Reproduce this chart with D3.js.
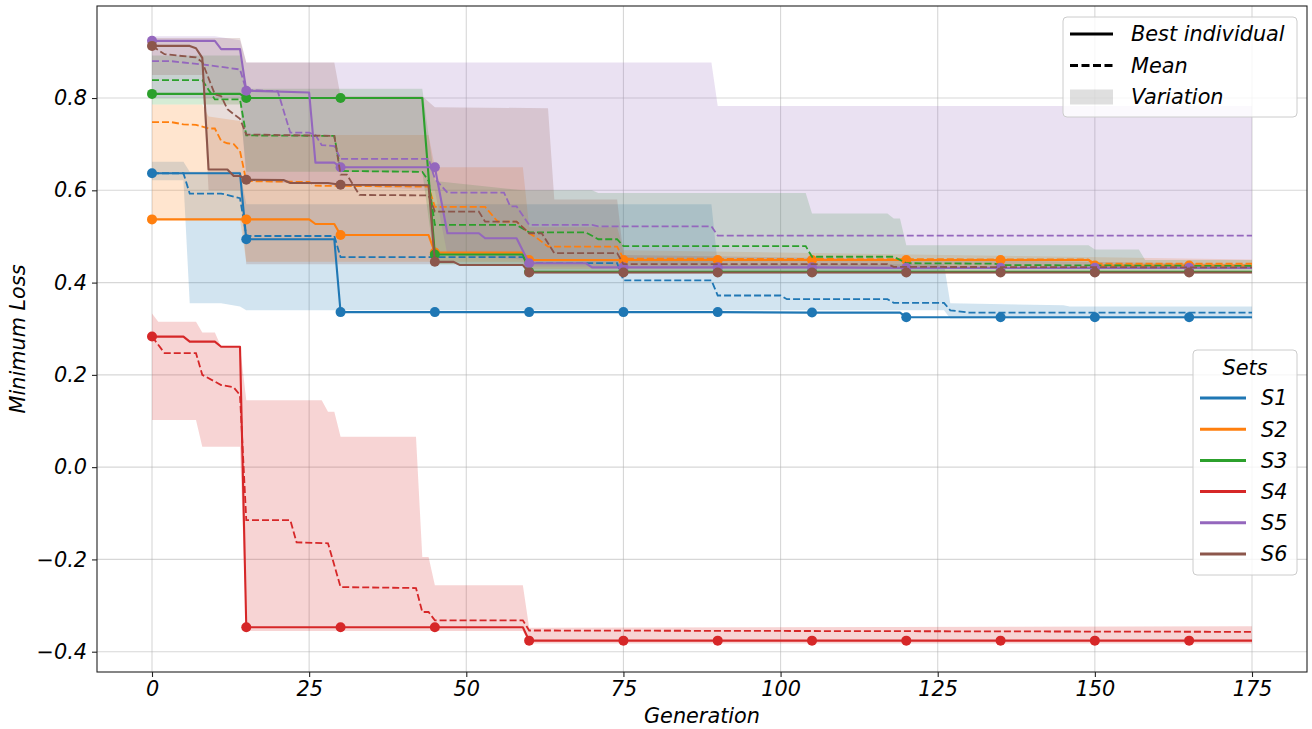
<!DOCTYPE html>
<html>
<head>
<meta charset="utf-8">
<script src="https://cdn.jsdelivr.net/npm/d3@7"></script>
<style>
  body { margin: 0; background: #ffffff; }
  svg text { font-family: "DejaVu Sans", sans-serif; font-style: italic; fill: #000; }
</style>
</head>
<body>
<svg id="chart" width="1312" height="729"></svg>
<script>
// ---- data: [generation, loss] breakpoints per set ----
const setNames = ["S1", "S2", "S3", "S4", "S5", "S6"];
const setColors = ["#1f77b4", "#ff7f0e", "#2ca02c", "#d62728", "#9467bd", "#8c564b"];
const xTicks = [0, 25, 50, 75, 100, 125, 150, 175];
const yTicks = [-0.4, -0.2, 0.0, 0.2, 0.4, 0.6, 0.8];
const markerEvery = 15;

const s1Best = [[0,0.637],[14,0.637],[15,0.494],[29,0.494],[30,0.336],[45,0.336],[60,0.336],[75,0.336],[90,0.336],[105,0.335],[119,0.335],[120,0.325],[135,0.325],[150,0.325],[165,0.325],[175,0.325]];
const s2Best = [[0,0.537],[15,0.537],[25,0.537],[26,0.527],[29,0.527],[30,0.503],[44,0.503],[45,0.465],[59,0.465],[60,0.449],[75,0.449],[90,0.449],[105,0.449],[120,0.449],[135,0.449],[149,0.449],[150,0.437],[165,0.437],[175,0.437]];
const s3Best = [[0,0.809],[14,0.809],[15,0.800],[30,0.800],[43,0.800],[45,0.461],[59,0.461],[60,0.4235],[75,0.4235],[90,0.4235],[105,0.4235],[120,0.4235],[135,0.4235],[150,0.4235],[165,0.4235],[175,0.4235]];
const s4Best = [[0,0.283],[5,0.283],[6,0.272],[10,0.272],[11,0.261],[14,0.261],[15,-0.347],[30,-0.347],[45,-0.347],[59,-0.347],[60,-0.376],[75,-0.376],[90,-0.376],[105,-0.376],[120,-0.376],[135,-0.376],[150,-0.376],[165,-0.376],[175,-0.376]];
const s5Best = [[0,0.924],[10,0.924],[11,0.906],[14,0.906],[15,0.816],[25,0.812],[26,0.660],[29,0.660],[30,0.650],[45,0.650],[47,0.507],[52,0.507],[53,0.496],[58,0.496],[60,0.442],[69,0.442],[70,0.433],[75,0.433],[90,0.433],[105,0.433],[120,0.432],[135,0.432],[150,0.432],[165,0.432],[175,0.432]];
const s6Best = [[0,0.913],[6,0.913],[7,0.908],[8,0.887],[9,0.645],[12,0.645],[13,0.631],[14,0.631],[15,0.623],[21,0.622],[22,0.616],[28,0.616],[30,0.612],[44,0.611],[45,0.445],[48,0.445],[49,0.438],[59,0.438],[60,0.422],[75,0.422],[90,0.422],[105,0.422],[120,0.422],[135,0.422],[150,0.422],[165,0.422],[175,0.422]];

const s1Mean = [[0,0.637],[5,0.637],[6,0.593],[11,0.593],[14,0.583],[15,0.501],[29,0.501],[30,0.455],[59,0.455],[60,0.442],[74,0.442],[75,0.405],[89,0.405],[90,0.372],[100,0.372],[101,0.364],[117,0.364],[118,0.356],[126,0.356],[127,0.340],[130,0.335],[175,0.335]];
const s2Mean = [[0,0.748],[3,0.748],[5,0.743],[7,0.742],[9,0.734],[10,0.734],[11,0.707],[12,0.702],[13,0.700],[14,0.685],[15,0.620],[25,0.618],[26,0.610],[44,0.608],[45,0.564],[53,0.564],[55,0.532],[58,0.532],[60,0.507],[61,0.499],[63,0.478],[74,0.478],[75,0.452],[149,0.450],[150,0.441],[175,0.441]];
const s3Mean = [[0,0.839],[8,0.839],[10,0.797],[14,0.797],[15,0.719],[29,0.718],[30,0.642],[43,0.640],[44,0.620],[45,0.525],[58,0.525],[60,0.509],[69,0.509],[71,0.494],[74,0.494],[75,0.479],[104,0.479],[105,0.456],[118,0.456],[120,0.442],[134,0.441],[135,0.438],[175,0.436]];
const s4Mean = [[0,0.283],[2,0.247],[7,0.247],[8,0.200],[11,0.178],[13,0.173],[14,0.156],[15,-0.115],[22,-0.115],[23,-0.163],[28,-0.165],[30,-0.260],[42,-0.262],[43,-0.314],[44,-0.314],[45,-0.332],[59,-0.332],[60,-0.354],[175,-0.357]];
const s5Mean = [[0,0.880],[3,0.880],[5,0.877],[8,0.873],[14,0.862],[15,0.817],[20,0.815],[22,0.725],[25,0.725],[26,0.720],[27,0.698],[29,0.696],[30,0.668],[44,0.668],[45,0.625],[47,0.595],[56,0.595],[57,0.565],[58,0.565],[60,0.525],[70,0.525],[71,0.522],[89,0.522],[90,0.502],[175,0.502]];
const s6Mean = [[0,0.913],[2,0.895],[7,0.888],[8,0.878],[10,0.808],[11,0.804],[12,0.776],[13,0.765],[14,0.755],[15,0.721],[29,0.718],[30,0.634],[31,0.634],[33,0.590],[44,0.589],[45,0.554],[52,0.554],[53,0.532],[58,0.532],[60,0.507],[62,0.507],[64,0.464],[74,0.464],[75,0.440],[117,0.440],[118,0.434],[175,0.433]];

const s1Upper = [[0,0.662],[5,0.662],[6,0.640],[14,0.640],[15,0.570],[89,0.570],[90,0.440],[126,0.440],[127,0.355],[145,0.351],[146,0.348],[175,0.348]];
const s1Lower = [[0,0.622],[5,0.622],[6,0.355],[11,0.355],[14,0.348],[15,0.340],[126,0.340],[127,0.322],[175,0.322]];
const s2Upper = [[0,0.786],[8,0.786],[9,0.760],[14,0.750],[15,0.720],[44,0.720],[45,0.650],[59,0.650],[60,0.520],[74,0.520],[75,0.470],[175,0.450]];
const s2Lower = [[0,0.537],[14,0.537],[15,0.445],[59,0.445],[60,0.430],[175,0.430]];
const s3Upper = [[0,0.892],[14,0.892],[15,0.820],[43,0.820],[45,0.620],[59,0.600],[70,0.600],[71,0.594],[104,0.594],[105,0.550],[117,0.550],[118,0.539],[119,0.539],[120,0.481],[149,0.481],[150,0.472],[157,0.472],[158,0.449],[175,0.449]];
const s3Lower = [[0,0.786],[14,0.786],[15,0.640],[43,0.640],[45,0.440],[59,0.440],[60,0.420],[175,0.420]];
const s4Upper = [[0,0.333],[1,0.315],[7,0.315],[8,0.292],[10,0.292],[11,0.261],[14,0.261],[15,0.145],[27,0.145],[28,0.120],[29,0.120],[30,0.066],[42,0.066],[43,-0.195],[44,-0.195],[45,-0.256],[59,-0.256],[60,-0.348],[175,-0.345]];
const s4Lower = [[0,0.102],[7,0.102],[8,0.044],[14,0.044],[15,-0.355],[59,-0.355],[60,-0.382],[175,-0.382]];
const s5Upper = [[0,0.934],[10,0.934],[14,0.925],[15,0.877],[89,0.877],[90,0.783],[175,0.783]];
const s5Lower = [[0,0.800],[14,0.800],[15,0.620],[45,0.600],[47,0.460],[59,0.450],[60,0.435],[175,0.435]];
const s6Upper = [[0,0.930],[14,0.930],[15,0.877],[29,0.877],[30,0.804],[43,0.804],[45,0.780],[63,0.778],[64,0.580],[74,0.580],[75,0.460],[175,0.440]];
const s6Lower = [[0,0.850],[8,0.850],[9,0.600],[14,0.600],[15,0.440],[59,0.440],[60,0.420],[175,0.420]];

const bestSeries = [s1Best, s2Best, s3Best, s4Best, s5Best, s6Best];
const meanSeries = [s1Mean, s2Mean, s3Mean, s4Mean, s5Mean, s6Mean];
const upperSeries = [s1Upper, s2Upper, s3Upper, s4Upper, s5Upper, s6Upper];
const lowerSeries = [s1Lower, s2Lower, s3Lower, s4Lower, s5Lower, s6Lower];

// ---- layout ----
const plot = { left: 97, right: 1307, top: 6, bottom: 672 };
const FS = 20.8;

const svg = d3.select("#chart");
const x = d3.scaleLinear().domain([-8.75, 183.75]).range([plot.left, plot.right]);
const y = d3.scaleLinear().domain([-0.444, 0.9995]).range([plot.bottom, plot.top]);

svg.append("defs").append("clipPath").attr("id", "plotClip")
  .append("rect").attr("x", plot.left).attr("y", plot.top)
  .attr("width", plot.right - plot.left).attr("height", plot.bottom - plot.top);

// grid
const grid = svg.append("g");
grid.selectAll("line.gx").data(xTicks).join("line")
  .attr("x1", d => x(d)).attr("x2", d => x(d))
  .attr("y1", plot.top).attr("y2", plot.bottom)
  .attr("stroke", "#b0b0b0").attr("stroke-opacity", 0.5).attr("stroke-width", 1.1);
grid.selectAll("line.gy").data(yTicks).join("line")
  .attr("y1", d => y(d)).attr("y2", d => y(d))
  .attr("x1", plot.left).attr("x2", plot.right)
  .attr("stroke", "#b0b0b0").attr("stroke-opacity", 0.5).attr("stroke-width", 1.1);

const lineGen = d3.line().x(d => x(d[0])).y(d => y(d[1]));
const body = svg.append("g").attr("clip-path", "url(#plotClip)");

// variation bands
setNames.forEach((name, i) => {
  const poly = upperSeries[i].concat(lowerSeries[i].slice().reverse());
  body.append("path")
    .attr("d", lineGen(poly) + "Z")
    .attr("fill", setColors[i]).attr("fill-opacity", 0.2).attr("stroke", "none");
});

// best and mean lines
setNames.forEach((name, i) => {
  body.append("path").attr("d", lineGen(bestSeries[i]))
    .attr("fill", "none").attr("stroke", setColors[i]).attr("stroke-width", 2.1)
    .attr("stroke-linejoin", "round");
  body.selectAll(null).data(bestSeries[i].filter(d => d[0] % markerEvery === 0 && d[0] < 175))
    .join("circle")
    .attr("cx", d => x(d[0])).attr("cy", d => y(d[1])).attr("r", 5)
    .attr("fill", setColors[i]);
  body.append("path").attr("d", lineGen(meanSeries[i]))
    .attr("fill", "none").attr("stroke", setColors[i]).attr("stroke-width", 1.8)
    .attr("stroke-dasharray", "7,3");
});

// axes frame
svg.append("rect").attr("x", plot.left).attr("y", plot.top)
  .attr("width", plot.right - plot.left).attr("height", plot.bottom - plot.top)
  .attr("fill", "none").attr("stroke", "#222").attr("stroke-width", 1.1);

const xAxis = svg.append("g").attr("transform", `translate(0,${plot.bottom})`)
  .call(d3.axisBottom(x).tickValues(xTicks).tickSize(5).tickPadding(4).tickFormat(d3.format("d")));
const yAxis = svg.append("g").attr("transform", `translate(${plot.left},0)`)
  .call(d3.axisLeft(y).tickValues(yTicks).tickSize(5).tickPadding(5)
    .tickFormat(d => d3.format(".1f")(d).replace("-", "\u2212")));
[xAxis, yAxis].forEach(a => {
  a.select(".domain").remove();
  a.selectAll(".tick line").attr("stroke", "#222").attr("stroke-width", 1.1);
  a.selectAll(".tick text").attr("font-size", FS).attr("fill", "#000")
    .style("font-family", "'DejaVu Sans', sans-serif").style("font-style", "italic");
});

svg.append("text").attr("x", (plot.left + plot.right) / 2).attr("y", 723)
  .attr("text-anchor", "middle").attr("font-size", FS).text("Generation");
svg.append("text").attr("transform", `translate(25,${(plot.top + plot.bottom) / 2}) rotate(-90)`)
  .attr("text-anchor", "middle").attr("font-size", FS).text("Minimum Loss");

// legend: line styles
const styleItems = [
  { label: "Best individual", kind: "solid" },
  { label: "Mean", kind: "dash" },
  { label: "Variation", kind: "patch" }
];
const lg1 = svg.append("g");
lg1.append("rect").attr("x", 1063).attr("y", 17).attr("width", 234).attr("height", 100)
  .attr("rx", 4).attr("fill", "#fff").attr("fill-opacity", 0.8)
  .attr("stroke", "#cccccc").attr("stroke-width", 1);
styleItems.forEach((it, k) => {
  const cy = 34 + k * 31.5;
  if (it.kind === "patch") {
    lg1.append("rect").attr("x", 1070).attr("y", cy - 7.5).attr("width", 43).attr("height", 15)
      .attr("fill", "#808080").attr("fill-opacity", 0.25);
  } else {
    lg1.append("line").attr("x1", 1070).attr("x2", 1113).attr("y1", cy).attr("y2", cy)
      .attr("stroke", "#000").attr("stroke-width", 3)
      .attr("stroke-dasharray", it.kind === "dash" ? "8,3.5" : null);
  }
  lg1.append("text").attr("x", 1131).attr("y", cy).attr("dy", "0.36em")
    .attr("font-size", FS).text(it.label);
});

// legend: sets
const lg2 = svg.append("g");
lg2.append("rect").attr("x", 1193).attr("y", 350).attr("width", 104).attr("height", 225)
  .attr("rx", 4).attr("fill", "#fff").attr("fill-opacity", 0.8)
  .attr("stroke", "#cccccc").attr("stroke-width", 1);
lg2.append("text").attr("x", 1245).attr("y", 368).attr("dy", "0.36em")
  .attr("text-anchor", "middle").attr("font-size", FS).text("Sets");
setNames.forEach((name, i) => {
  const cy = 398 + i * 31.2;
  lg2.append("line").attr("x1", 1200).attr("x2", 1246).attr("y1", cy).attr("y2", cy)
    .attr("stroke", setColors[i]).attr("stroke-width", 3);
  lg2.append("text").attr("x", 1261).attr("y", cy).attr("dy", "0.36em")
    .attr("font-size", FS).text(name);
});
</script>
</body>
</html>
